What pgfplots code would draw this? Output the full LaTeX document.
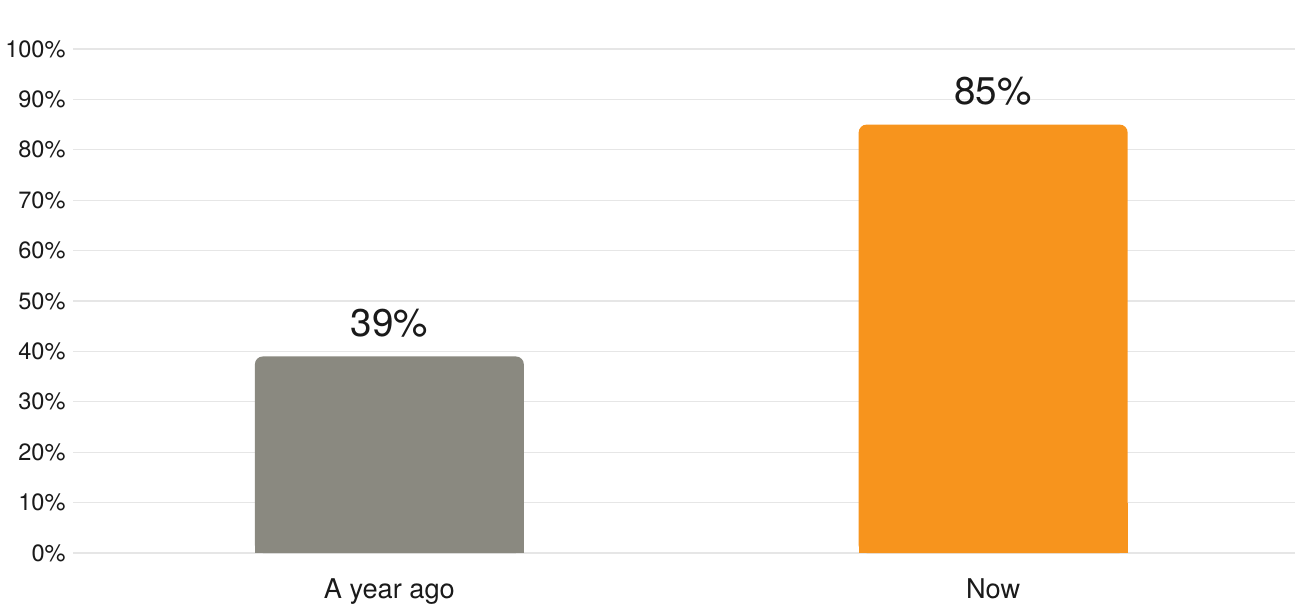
\documentclass[border=0pt]{standalone}
\usepackage{pgfplots}
\pgfplotsset{compat=1.18}
\usepackage{fontspec}
\setmainfont{TeX Gyre Heros}
\definecolor{bargray}{HTML}{8A8980}
\definecolor{barorange}{HTML}{F7941D}
\definecolor{gridc}{HTML}{E6E6E6}
\definecolor{txt}{HTML}{1A1A1A}
\begin{document}
\begin{tikzpicture}
\begin{axis}[
  name=ax,
  scale only axis,
  width=611bp, height=252bp,
  xmin=-0.524, xmax=1.5,
  ymin=0, ymax=100,
  axis line style={draw=none},
  ymajorgrids, grid style={gridc, line width=0.6bp},
  ytick={0,10,...,100},
  yticklabels={0\%,10\%,20\%,30\%,40\%,50\%,60\%,70\%,80\%,90\%,100\%},
  xtick={0,1}, xticklabels={A year ago, Now},
  major tick length=0pt,
  clip=false,
  /pgf/number format/assume math mode=true,
  yticklabel style={font=\fontsize{11.8bp}{14bp}\selectfont, text=txt, anchor=east, inner sep=0pt, xshift=-3.5bp},
  xticklabel style={font=\fontsize{13.6bp}{16bp}\selectfont, text=txt, anchor=base, inner sep=0pt, yshift=-22.5bp},
  ybar, bar width=134.5bp, bar shift=0pt,
]
\addplot[draw=none, fill=bargray] coordinates {(0,10)};
\addplot[draw=none, fill=barorange] coordinates {(1,10)};
\addplot[draw=none, fill=bargray, rounded corners=4bp,
  nodes near coords={\pgfmathprintnumber{\pgfplotspointmeta}\%},
  nodes near coords style={font=\fontsize{19.3bp}{22bp}\selectfont, text=txt, anchor=base, inner sep=0pt, yshift=10bp}]
  coordinates {(0,39)};
\addplot[draw=none, fill=barorange, rounded corners=4bp,
  nodes near coords={\pgfmathprintnumber{\pgfplotspointmeta}\%},
  nodes near coords style={font=\fontsize{19.3bp}{22bp}\selectfont, text=txt, anchor=base, inner sep=0pt, yshift=10bp}]
  coordinates {(1,85)};
\end{axis}
\pgfresetboundingbox
\path ([xshift=-36.5bp,yshift=-29bp]ax.south west) rectangle ([yshift=24.5bp]ax.north east);
\end{tikzpicture}
\end{document}
